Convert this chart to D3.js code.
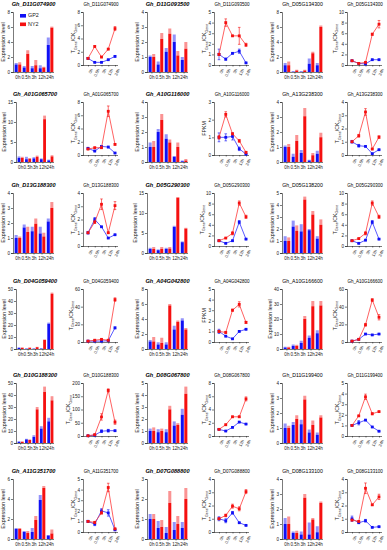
<!DOCTYPE html>
<html>
<head>
<meta charset="utf-8">
<script src="https://cdn.jsdelivr.net/npm/d3@7"></script>
<style>
  body { margin: 0; background: #fff; }
  svg { font-family: "Liberation Sans", Arial, sans-serif; }
</style>
</head>
<body>
<script>
// time points shared by every panel
const times = ["0h", "0.5h", "3h", "12h", "24h"];
const seriesNames = ["GP2", "NY2"];

// panels in reading order (6 per row), bar = qRT-PCR, line = RNA-seq / ratio
const titles = [
  "Gh_D11G074900", "Gh_D11G074900", "Gh_D11G093500", "Gh_D11G093500", "Gh_D05G134300", "Gh_D05G134300",
  "Gh_A01G065700", "Gh_A01G065700", "Gh_A10G116000", "Gh_A10G116000", "Gh_A13G238300", "Gh_A13G238300",
  "Gh_D13G188300", "Gh_D13G188300", "Gh_D05G290300", "Gh_D05G290300", "Gh_D05G138200", "Gh_D05G290300",
  "Gh_D04G059400", "Gh_D04G059400", "Gh_A04G042800", "Gh_A04G042800", "Gh_A10G166600", "Gh_A10G166600",
  "Gh_D10G188300", "Gh_D10G188300", "Gh_D08G067800", "Gh_D08G067800", "Gh_D11G199400", "Gh_D11G199400",
  "Gh_A11G351700", "Gh_A11G351700", "Gh_D07G088800", "Gh_D07G088800", "Gh_D08G133100", "Gh_D08G133100"
];
const yMax = [
  8, 8, 4, 5, 8, 10,
  15, 8, 4, 3, 4, 4,
  4, 4, 15, 10, 5, 10,
  50, 60, 8, 5, 40, 60,
  50, 200, 5, 8, 4, 5,
  6, 5, 3, 4, 4, 4
];
const yStep = [
  2, 2, 1, 1, 2, 2,
  5, 2, 1, 1, 1, 1,
  1, 1, 5, 2, 1, 2,
  10, 20, 2, 1, 10, 20,
  10, 50, 1, 2, 1, 1,
  2, 1, 1, 1, 1, 1
];
const fpkmPanels = [9, 21];

const gp2Mean = [
  [1.0, 0.6, 0.5, 0.5, 3.6], [1.0, 0.4, 0.4, 0.8, 1.3], [1.0, 0.5, 1.35, 2.0, 0.8],
  [1.0, 0.55, 1.1, 1.3, 0.2], [0.9, 0.05, 0.05, 1.1, 0.9], [0.8, 0.3, 0.2, 1.0, 1.0],
  [1.0, 0.7, 0.9, 0.7, 0.4], [1.0, 0.6, 1.3, 1.2, 0.3], [1.0, 2.0, 1.55, 0.35, 0.05],
  [1.0, 1.0, 1.05, 0.35, 0.05], [1.0, 0.35, 0.6, 0.1, 0.55], [1.0, 0.7, 0.65, 0.1, 0.4],
  [1.0, 1.7, 1.45, 1.3, 2.1], [1.0, 2.0, 1.45, 0.6, 0.85], [1.0, 0.7, 1.0, 6.5, 2.7],
  [1.0, 0.5, 1.0, 4.5, 1.3], [1.0, 2.2, 1.8, 1.9, 1.2], [1.0, 0.5, 1.1, 4.5, 1.3],
  [1.0, 0.3, 0.3, 0.4, 21], [1, 1, 1, 1.5, 16], [1.0, 0.6, 0.6, 2.6, 3.8],
  [1.0, 0.55, 0.3, 1.0, 1.2], [1.0, 2.0, 4.0, 7.5, 10.5], [1, 3, 9, 8, 9],
  [1, 3, 5, 12, 18], [1, 3, 18, 20, 20], [1, 0.9, 0.9, 1.45, 2.35],
  [1, 0.75, 1.3, 2.1, 1.8], [1, 1.2, 1.25, 0.7, 0.55], [1, 1.25, 1.5, 0.85, 0.45],
  [1, 0.7, 0.7, 3.9, 0.35], [1, 0.75, 2.0, 1.8, 0.2], [1, 0.55, 0.3, 0.45, 0.55],
  [1, 0.85, 1.45, 0.7, 0.5], [1, 0.4, 0.3, 0.3, 0.45], [1, 0.7, 0.85, 0.35, 0.4]
];
const gp2Err = [
  [0.2, 0.2, 0.3, 0.4, 1.0], [0.1, 0.05, 0.05, 0.05, 0.1], [0.1, 0.2, 0.25, 0.5, 0.2],
  [0.5, 0.1, 0.05, 0.2, 0.05], [0.3, 0.05, 0.05, 0.7, 0.3], [0.1, 0.05, 0.05, 0.1, 0.1],
  [0.4, 0.6, 0.3, 0.2, 0.2], [0.15, 0.1, 0.1, 0.1, 0.05], [0.3, 0.2, 0.3, 0.05, 0.05],
  [0.25, 0.2, 0.2, 0.1, 0.02], [0.1, 0.2, 0.2, 0.05, 0.2], [0.1, 0.1, 0.03, 0.03, 0.03],
  [0.2, 0.2, 0.3, 0.45, 0.2], [0.1, 0.15, 0.03, 0.03, 0.03], [0.3, 0.2, 0.3, 0.3, 0.2],
  [0.1, 0.05, 0.1, 0.3, 0.1], [0.4, 0.5, 0.6, 0.1, 0.2], [0.1, 0.05, 0.1, 0.3, 0.1],
  [0.3, 0.2, 0.2, 0.2, 1], [0.3, 0.3, 0.3, 0.3, 1], [0.2, 0.3, 0.3, 0.5, 0.3],
  [0.2, 0.05, 0.03, 0.05, 0.05], [0.5, 1, 1.5, 1.5, 2], [0.3, 0.5, 0.5, 0.5, 0.5],
  [0.5, 0.5, 1.5, 2, 3], [1, 1, 5, 5, 2], [0.2, 0.25, 0.25, 0.35, 0.5],
  [0.05, 0.05, 0.05, 0.05, 0.05], [0.3, 0.2, 0.3, 0.2, 0.15], [0.05, 0.2, 0.05, 0.05, 0.03],
  [0.1, 0.1, 0.4, 0.5, 0.05], [0.1, 0.15, 0.2, 0.3, 0.05], [0.25, 0.35, 0.3, 0.4, 0.3],
  [0.15, 0.15, 0.1, 0.03, 0.03], [0.4, 0.1, 0.2, 0.8, 0.4], [0.2, 0.05, 0.1, 0.03, 0.03]
];
const ny2Mean = [
  [1.0, 2.4, 0.9, 0.6, 5.9], [1.0, 2.8, 1.2, 2.4, 5.5], [1.0, 2.2, 2.55, 1.1, 1.55],
  [1.0, 4.0, 2.75, 2.75, 1.9], [0.9, 0.2, 0.2, 2.5, 6.0], [0.8, 0.3, 0.5, 5.8, 7.7],
  [1.0, 0.8, 1.3, 10.7, 1.4], [0.9, 1.1, 1.1, 6.6, 1.6], [1.0, 2.8, 1.3, 1.0, 0.1],
  [1.0, 2.3, 1.2, 0.8, 0.15], [1.0, 1.4, 3.05, 0.45, 1.65], [1.0, 1.45, 3.25, 0.45, 1.35],
  [1.0, 1.4, 1.95, 1.1, 3.0], [1.0, 1.8, 3.15, 1.0, 3.05], [1.0, 1.0, 1.1, 13.8, 6.1],
  [1.0, 1.5, 2.4, 8.1, 5.5], [1.0, 1.85, 4.45, 3.2, 2.35], [1.0, 1.4, 2.4, 8.1, 5.5],
  [1.0, 1.0, 1.5, 7.5, 46], [1, 2, 3, 2, 48], [1.0, 0.8, 5.8, 3.6, 2.6],
  [1.0, 0.9, 3.0, 3.55, 1.85], [1.0, 2.0, 20, 28.5, 29], [1, 3, 19.5, 47.5, 28],
  [1, 2.5, 28, 42.5, 35.5], [1, 5, 72, 172, 52], [1, 1, 2.8, 1.5, 4.1],
  [1, 1.7, 2.9, 2.9, 5.6], [1, 1.6, 2.9, 1.2, 1.7], [1, 1.9, 3.7, 2.1, 2.3],
  [1, 0.6, 1.9, 5.1, 0.55], [1, 0.9, 1.8, 4.2, 0.3], [1, 0.6, 1.8, 0.75, 2.0],
  [1, 1.25, 1.95, 1.75, 3.05], [1, 0.4, 2.75, 1.3, 2.4], [0.9, 0.8, 3.3, 2.05, 2.65]
];
const ny2Err = [
  [0.3, 0.5, 0.7, 0.1, 0.15], [0.1, 0.1, 0.1, 0.1, 0.3], [0.2, 0.4, 0.35, 0.3, 0.45],
  [0.1, 0.35, 0.05, 0.8, 0.15], [0.5, 0.1, 0.1, 0.2, 0.2], [0.1, 0.1, 0.1, 0.2, 0.7],
  [0.3, 0.2, 0.3, 0.9, 0.3], [0.1, 0.1, 0.1, 0.8, 0.1], [0.4, 0.4, 0.2, 0.3, 0.1],
  [0.1, 0.15, 0.05, 0.08, 0.05], [0.2, 0.4, 0.55, 0.15, 0.3], [0.05, 0.1, 0.25, 0.05, 0.1],
  [0.1, 0.35, 0.35, 0.25, 0.4], [0.05, 0.1, 0.4, 0.05, 0.3], [0.5, 0.5, 0.4, 0.2, 0.2],
  [0.1, 0.1, 0.3, 0.4, 0.3], [0.3, 0.45, 0.25, 0.3, 0.45], [0.1, 0.1, 0.3, 0.4, 0.3],
  [0.3, 0.3, 0.3, 0.5, 1], [0.3, 0.5, 0.5, 0.5, 2], [0.6, 0.7, 0.2, 0.2, 0.2],
  [0.1, 0.1, 0.1, 0.25, 0.1], [0.5, 0.8, 2, 3.5, 3], [0.3, 0.5, 1.5, 1.5, 3],
  [0.3, 0.5, 2, 4.5, 3.5], [1, 2, 12, 6, 8], [0.3, 0.2, 0.3, 0.15, 0.6],
  [0.05, 0.1, 0.1, 0.1, 0.3], [0.15, 0.25, 0.25, 0.3, 0.15], [0.05, 0.05, 0.25, 0.1, 0.05],
  [0.1, 0.2, 0.4, 0.2, 0.4], [0.05, 0.1, 0.1, 0.4, 0.05], [0.25, 0.35, 0.6, 0.4, 0.55],
  [0.05, 0.1, 0.15, 0.15, 0.15], [0.5, 0.15, 0.25, 0.1, 0.1], [0.05, 0.05, 0.4, 0.05, 0.2]
];

const W = 387, H = 550;
const barX = [13, 147, 282];
const lineX = [83, 214, 347];
const firstBarX = [13, 16, 13, 16, 16, 13]; // first column shifts with wider tick labels
const rowTop = [12, 102, 193, 289, 383, 479];
const barH = 60, lineH = 53, barW = 41, lineW = 36;
const colors = ["#1010f5", "#f51010"];
const lineColors = ["#3030ff", "#ff3a3a"];

const svg = d3.select("body").append("svg").attr("width", W).attr("height", H);

function styleAxis(g) {
  g.selectAll("path, line").attr("stroke", "#222").attr("stroke-width", 0.6);
  g.selectAll("text").attr("font-size", 4.6).attr("fill", "#222");
}

function drawPanel(i) {
  const r = Math.floor(i / 6), c = i % 6;
  const isBar = c % 2 === 0;
  let x0 = isBar ? barX[c / 2] : lineX[(c - 1) / 2];
  if (c === 0) x0 = firstBarX[r];
  const top = rowTop[r];
  const h = isBar ? barH : lineH;
  const w = isBar ? barW - (c === 0 ? x0 - barX[0] : 0) : lineW;
  const g = svg.append("g");
  const y = d3.scaleLinear().domain([0, yMax[i]]).range([top + h, top]);
  const series = [
    {mean: gp2Mean[i], err: gp2Err[i]},
    {mean: ny2Mean[i], err: ny2Err[i]}
  ];
  const digits = String(yMax[i]).length;
  const labelX = x0 - 5 - digits * 2.6;

  // title
  let tx = x0 + w / 2;
  if (c === 5) tx = Math.min(tx, W - 19);
  const t = g.append("text").attr("x", tx).attr("y", top - 6)
    .attr("text-anchor", "middle").text(titles[i]);
  if (isBar && c < 4) t.attr("font-size", 5.6).attr("font-weight", "bold").attr("font-style", "italic");
  else t.attr("font-size", isBar ? 5.2 : 4.5);

  // y axis
  g.append("g").attr("transform", `translate(${x0},0)`)
    .call(d3.axisLeft(y).tickValues(d3.range(0, yMax[i] + 1e-9, yStep[i])).tickSize(2).tickPadding(1).tickFormat(d3.format("d")))
    .call(styleAxis);

  if (isBar) {
    const xb = d3.scaleBand().domain(times).range([x0 + 1, x0 + w]).paddingInner(0.18).paddingOuter(0.08);
    const bw = xb.bandwidth() * 0.46;
    const xa = g.append("g").attr("transform", `translate(0,${top + h})`)
      .call(d3.axisBottom(xb).tickSize(1.5).tickPadding(2))
      .call(styleAxis);
    xa.select(".domain").attr("d", `M${x0},0.5H${x0 + w}`);
    series.forEach((s, k) => {
      times.forEach((tm, j) => {
        const bx = xb(tm) + k * (xb.bandwidth() - bw);
        g.append("rect").attr("x", bx).attr("width", bw)
          .attr("y", y(s.mean[j])).attr("height", y(0) - y(s.mean[j]))
          .attr("fill", colors[k]);
        g.append("rect").attr("x", bx).attr("width", bw)
          .attr("y", y(s.mean[j] + s.err[j])).attr("height", y(s.mean[j]) - y(s.mean[j] + s.err[j]))
          .attr("fill", colors[k]).attr("opacity", 0.45);
      });
    });
    g.append("text").attr("transform", `translate(${labelX},${top + h / 2}) rotate(-90)`)
      .attr("text-anchor", "middle").attr("font-size", 5.4).attr("fill", "#222").text("Expression level");
  } else {
    const xp = d3.scalePoint().domain(times).range([x0 + 5, x0 + w - 4]);
    const xa = g.append("g").attr("transform", `translate(0,${top + h})`)
      .call(d3.axisBottom(xp).tickSize(1.5).tickPadding(1))
      .call(styleAxis);
    xa.select(".domain").attr("d", `M${x0},0.5H${x0 + w - 1}`);
    xa.selectAll(".tick text").attr("text-anchor", "end").attr("dy", "0.3em")
      .attr("transform", "translate(1,3) rotate(-65)").attr("font-size", 4.2);
    series.forEach((s, k) => {
      const line = d3.line().x((d, j) => xp(times[j])).y(d => y(d));
      g.append("path").datum(s.mean).attr("d", line).attr("fill", "none")
        .attr("stroke", lineColors[k]).attr("stroke-width", 0.8);
      times.forEach((tm, j) => {
        const px = xp(tm);
        const y1 = y(s.mean[j] + s.err[j]), y2 = y(Math.max(0, s.mean[j] - s.err[j]));
        g.append("path").attr("d", `M${px},${y1}V${y2}M${px - 1.3},${y1}H${px + 1.3}M${px - 1.3},${y2}H${px + 1.3}`)
          .attr("stroke", colors[k]).attr("stroke-width", 0.6).attr("fill", "none");
        g.append("rect").attr("x", px - 1.4).attr("y", y(s.mean[j]) - 1.4)
          .attr("width", 2.8).attr("height", 2.8).attr("fill", colors[k]);
      });
    });
    const lab = g.append("text").attr("transform", `translate(${labelX},${top + h / 2}) rotate(-90)`)
      .attr("text-anchor", "middle").attr("font-size", 5.2).attr("fill", "#222");
    if (fpkmPanels.includes(i)) {
      lab.text("FPKM");
    } else {
      lab.append("tspan").text("T");
      lab.append("tspan").attr("font-size", 3.6).attr("dy", 1.4).text("Gene");
      lab.append("tspan").attr("dy", -1.4).text("/CK");
      lab.append("tspan").attr("font-size", 3.6).attr("dy", 1.4).text("Gene");
    }
  }
}

titles.forEach((_, i) => drawPanel(i));

// legend inside first panel
const leg = svg.append("g");
seriesNames.forEach((name, k) => {
  leg.append("rect").attr("x", 20).attr("y", 14 + k * 8.5).attr("width", 6).attr("height", 3.6).attr("fill", colors[k]);
  leg.append("text").attr("x", 28).attr("y", 17.4 + k * 8.5).attr("font-size", 5.4).attr("fill", "#222").text(name);
});
</script>
</body>
</html>
